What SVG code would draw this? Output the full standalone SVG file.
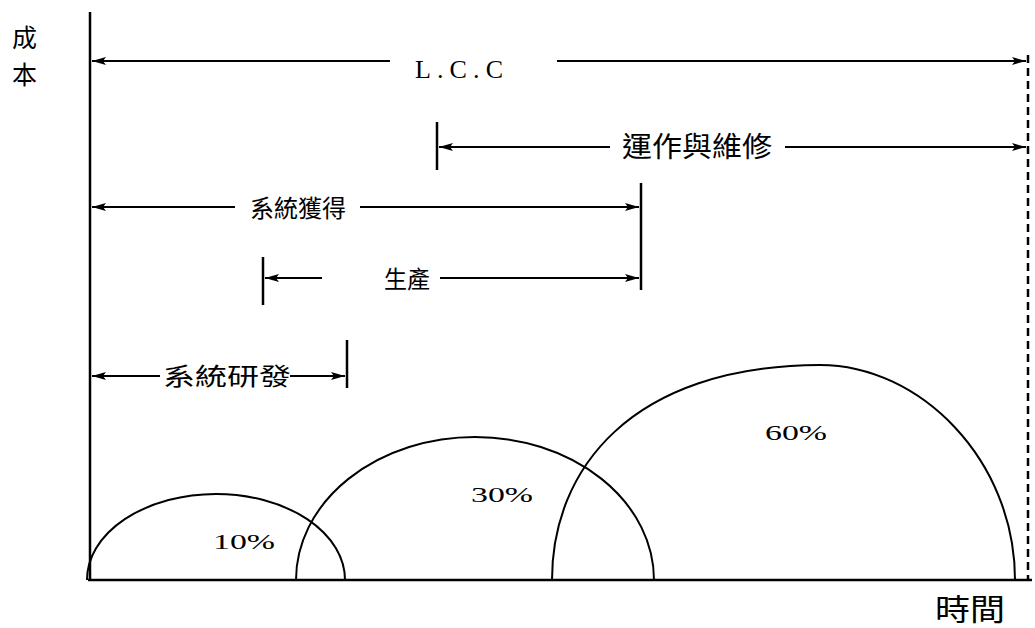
<svg xmlns="http://www.w3.org/2000/svg" width="1035" height="628" viewBox="0 0 1035 628">
<style>
.ax{stroke:#000;stroke-width:2.5;fill:none}
.ln{stroke:#000;stroke-width:2;fill:none}
.tk{stroke:#000;stroke-width:2.5;fill:none}
.arc{stroke:#000;stroke-width:2;fill:none}
.cjk{font-family:"Noto Sans CJK TC","Noto Sans CJK SC",sans-serif;fill:#000}
.ser{font-family:"Liberation Serif",serif;fill:#000}
</style>
<defs>
<marker id="ah" viewBox="0 0 14 8" refX="14" refY="4" markerWidth="14" markerHeight="8" markerUnits="userSpaceOnUse" orient="auto-start-reverse">
<path d="M0,0 L14,4 L0,8 L3,4 Z" fill="#000"/>
</marker>
</defs>
<rect width="1035" height="628" fill="#fff"/>
<g id="axes">
<line class="ax" x1="90" y1="12" x2="90" y2="581"/>
<line class="ax" x1="88" y1="580" x2="1032" y2="580"/>
<line x1="1028" y1="55" x2="1028" y2="580" stroke="#000" stroke-width="2.5" stroke-dasharray="8,5"/>
<text class="cjk" x="12" y="47" font-size="25">成</text>
<text class="cjk" x="12" y="84" font-size="25">本</text>
<text class="cjk" x="935" y="620" font-size="30" textLength="70" lengthAdjust="spacingAndGlyphs">時間</text>
</g>
<g id="connectors">
<line class="ln" x1="92" y1="61" x2="390" y2="61" marker-start="url(#ah)"/>
<line class="ln" x1="557" y1="61" x2="1026" y2="61" marker-end="url(#ah)"/>
<line class="tk" x1="437" y1="122" x2="437" y2="170"/>
<line class="ln" x1="439" y1="147" x2="610" y2="147" marker-start="url(#ah)"/>
<line class="ln" x1="785" y1="147" x2="1026" y2="147" marker-end="url(#ah)"/>
<line class="ln" x1="92" y1="207" x2="235" y2="207" marker-start="url(#ah)"/>
<line class="ln" x1="360" y1="207" x2="639" y2="207" marker-end="url(#ah)"/>
<line class="tk" x1="641" y1="183" x2="641" y2="290"/>
<line class="tk" x1="263" y1="257" x2="263" y2="305"/>
<line class="ln" x1="265" y1="278" x2="322" y2="278" marker-start="url(#ah)"/>
<line class="ln" x1="440" y1="278" x2="639" y2="278" marker-end="url(#ah)"/>
<line class="ln" x1="92" y1="376" x2="160" y2="376" marker-start="url(#ah)"/>
<line class="ln" x1="290" y1="376" x2="345" y2="376" marker-end="url(#ah)"/>
<line class="tk" x1="347" y1="340" x2="347" y2="388"/>
</g>
<g id="lcc"><text class="ser" x="415" y="78" font-size="26" textLength="88" lengthAdjust="spacing">L.C.C</text></g>
<g id="om"><text class="cjk" x="622" y="157" font-size="28" textLength="150" lengthAdjust="spacingAndGlyphs">運作與維修</text></g>
<g id="acq"><text class="cjk" x="250" y="217" font-size="24" textLength="96" lengthAdjust="spacingAndGlyphs">系統獲得</text></g>
<g id="prod"><text class="cjk" x="384" y="288" font-size="24" textLength="46" lengthAdjust="spacingAndGlyphs">生產</text></g>
<g id="rd"><text class="cjk" x="163" y="385" font-size="24" textLength="128" lengthAdjust="spacingAndGlyphs">系統研發</text></g>
<g id="arc10">
<path class="arc" d="M87,580 A129,86 0 0 1 345,580"/>
<text class="ser" x="213" y="549" font-size="22" textLength="62" lengthAdjust="spacingAndGlyphs">10%</text>
</g>
<g id="arc30">
<path class="arc" d="M296,580 A179,143 0 0 1 654,580"/>
<text class="ser" x="471" y="502" font-size="22" textLength="62" lengthAdjust="spacingAndGlyphs">30%</text>
</g>
<g id="arc60">
<path class="arc" d="M552,580 C552,470 630,366 820,365 C920,365 1015,460 1015,580"/>
<text class="ser" x="765" y="440" font-size="22" textLength="62" lengthAdjust="spacingAndGlyphs">60%</text>
</g>
</svg>
